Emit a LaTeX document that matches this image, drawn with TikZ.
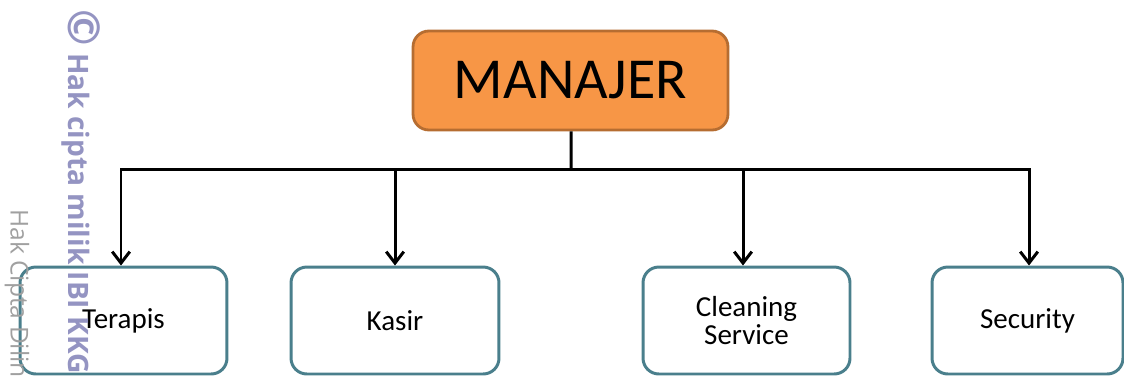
\documentclass[tikz,border=0pt]{standalone}
\usepackage{fontspec}
\setmainfont{Carlito}
\newfontfamily\wmfont{Open Sans}
\usetikzlibrary{arrows.meta}
\definecolor{mgrfill}{HTML}{F79646}
\definecolor{mgrdraw}{HTML}{B66D31}
\definecolor{tealdraw}{HTML}{4A7F8C}
\definecolor{wmpurple}{HTML}{9494C2}
\definecolor{wmgray}{HTML}{A0A0A0}
\tikzset{
  mgrbox/.style={draw=mgrdraw, fill=mgrfill, line width=1.6pt, rounded corners=9pt,
    minimum width=6.3cm, minimum height=1.98cm, inner sep=0pt,
    font=\fontsize{33}{38}\selectfont},
  staffbox/.style={draw=tealdraw, fill=white, line width=1.7pt, rounded corners=9pt,
    minimum height=2.14cm, inner sep=0pt, align=center,
    font=\fontsize{16.5}{16}\selectfont},
  conn/.style={line width=1.7pt, black},
  arr/.style={conn, -{Straight Barb[length=6.5pt,width=10pt,line width=1.7pt]}},
  wmtext/.style={rotate=-90, anchor=west, inner sep=0pt},
}
\begin{document}
\begin{tikzpicture}[x=0.02cm,y=-0.02cm]
\useasboundingbox (0,0) rectangle (1124,376);
\clip (0,0) rectangle (1124,376);
% nodes
\node[mgrbox] (M) at (570.5,80.5) {\raisebox{-2.3pt}{MANAJER}};
\node[staffbox, minimum width=4.14cm] (T) at (123.5,320.5) {Terapis};
\node[staffbox, minimum width=4.16cm] (K) at (395,320.5) {Kasir};
\node[staffbox, minimum width=4.14cm] (C) at (746.5,320.5) {Cleaning\\Service};
\node[staffbox, minimum width=3.82cm] (S) at (1027.5,320.5) {Security};
% connectors
\coordinate (bus) at (571,169);
\coordinate (busL) at (121,169);
\coordinate (busR) at (1029,169);
\draw[conn] (M.south) ++(0.5,0) -- (bus);
\draw[conn, line cap=rect] (busL) -- (busR);
\draw[arr] (busL) -- (busL |- T.north);
\draw[arr] (K.north |- bus) -- (K.north);
\draw[arr] ([xshift=-3.5*0.02cm]C.north |- bus) -- ([xshift=-3.5*0.02cm]C.north);
\draw[arr] (busR) -- (busR |- S.north);
% watermarks (on top)
\node[wmtext, text=wmgray, font=\wmfont\fontsize{14}{14}\selectfont] (wmb) at (17,209) {Hak Cipta Dilindungi};
\node[wmtext, text=wmpurple, font=\wmfont\bfseries\fontsize{16}{16}\selectfont] (wma) at (81,9) {\fontsize{25}{25}\selectfont©\fontsize{16}{16}\selectfont{} Hak cipta milik IBI KKG (Institut};
\end{tikzpicture}
\end{document}
